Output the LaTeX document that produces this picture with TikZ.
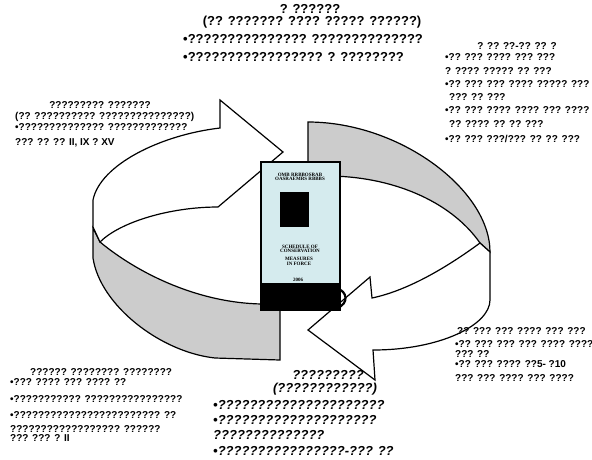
\documentclass[tikz,border=0pt]{standalone}
\usepackage{fontspec}
\setmainfont{Liberation Sans}
\newfontfamily\cardfont{Liberation Serif}
\definecolor{ringgray}{RGB}{204,204,204}
\definecolor{cardblue}{RGB}{213,235,238}
\tikzset{
  band/.style={draw=black, line width=1.2pt, line join=miter},
  bigtxt/.style={font=\bfseries\fontsize{13}{15}\selectfont, inner sep=0pt},
  bigital/.style={font=\bfseries\itshape\fontsize{13}{15}\selectfont, inner sep=0pt},
  smalltxt/.style={font=\bfseries\fontsize{10}{12}\selectfont, inner sep=0pt, anchor=west},
  cardtxt/.style={font=\cardfont\bfseries\fontsize{5}{4.5}\selectfont, align=center, inner sep=0pt}
}
\begin{document}
\begin{tikzpicture}[x=1pt,y=-1pt]
\useasboundingbox (0,0) rectangle (592,459);

% ring, back part on the right
\filldraw[band, fill=ringgray] (308,176) -- (308,122) .. controls (400,122) and (490,190) .. (490,252) -- (480,243) .. controls (450,200) and (390,176) .. (327,176) -- cycle;
% ring, front part on the left
\filldraw[band, fill=ringgray] (93,228) -- (100,242) .. controls (140,275) and (200,303) .. (262,304) -- (280,304) -- (280,360) -- (215,358) .. controls (160,352) and (100,305) .. (93,258) -- cycle;
% arrow into the card
\filldraw[band, fill=white] (100,242) -- (93,227) -- (93,200) .. controls (100,165) and (160,135) .. (220,128) -- (220,100) -- (283,152) -- (218,207) .. controls (170,207) and (120,222) .. (100,242) -- cycle;
% arrow out of the card
\filldraw[band, fill=white] (480,243) -- (490,252) -- (490,300) .. controls (490,325) and (440,350) .. (373,350) -- (375,380) -- (308,330) -- (370,277) -- (372,298) .. controls (410,290) and (450,265) .. (480,243) -- cycle;

% the booklet
\node[draw, line width=1.4pt, fill=cardblue, minimum width=79pt, minimum height=148pt, inner sep=0pt] (card) at (300.4,236) {};
\node[cardtxt] (cardhead) at (300,177) {OMB RRBBOSRAB\\OASRAEMRS RBBBS};
\node[fill=black, minimum width=29pt, minimum height=35pt, inner sep=0pt] (cardlogo) at (294.5,209.5) {};
\node[cardtxt] (cardtitle) at (300,249) {SCHEDULE OF\\CONSERVATION};
\node[cardtxt] (cardsub) at (299,261.5) {MEASURES\\IN FORCE};
\node[cardtxt] (cardyear) at (298,280) {2006};
\fill (261.7,283.3) rectangle (340,309.5);
\draw[line width=2.2pt] (336,288) .. controls (348,291) and (349,304) .. (337,308);

% top
\node[bigtxt] (goal) at (310,9) {? ??????};
\node[bigtxt] (goalsub) at (312,22) {(?? ??????? ???? ????? ??????)};
\node[bigtxt, anchor=west] (goal1) at (183,39) {•??????????????? ??????????????};
\node[bigtxt, anchor=west] (goal2) at (183,57) {•????????????????? ? ????????};

% top right
\node[smalltxt, anchor=center] (rt0) at (517,46) {? ?? ??-?? ?? ?};
\node[smalltxt] (rt1) at (445,57) {•?? ??? ???? ??? ???};
\node[smalltxt] (rt2) at (445,71) {? ???? ????? ?? ???};
\node[smalltxt] (rt3) at (445,84) {•?? ??? ??? ???? ????? ???};
\node[smalltxt] (rt4) at (449,97) {??? ?? ???};
\node[smalltxt] (rt5) at (445,110) {•?? ??? ???? ???? ??? ????};
\node[smalltxt] (rt6) at (449,124) {?? ???? ?? ?? ???};
\node[smalltxt] (rt7) at (445,139) {•?? ??? ???/??? ?? ?? ???};

% left
\node[smalltxt, anchor=center] (lm0) at (100,105) {????????? ???????};
\node[smalltxt] (lm1) at (15,117) {(?? ?????????? ???????????????)};
\node[smalltxt] (lm2) at (15,127) {•?????????????? ?????????????};
\node[smalltxt] (lm3) at (15,143) {??? ?? ?? II, IX ? XV};

% bottom right
\node[smalltxt] (br0) at (457,331) {?? ??? ??? ???? ??? ???};
\node[smalltxt] (br1) at (455,344) {•?? ??? ??? ??? ???? ????};
\node[smalltxt] (br2) at (455,354) {??? ??};
\node[smalltxt] (br3) at (455,364) {•?? ??? ???? ??5- ?10};
\node[smalltxt] (br4) at (455,378) {??? ??? ???? ??? ????};

% bottom left
\node[smalltxt] (bl0) at (30,372) {?????? ???????? ????????};
\node[smalltxt] (bl1) at (10,382) {•??? ???? ??? ???? ??};
\node[smalltxt] (bl2) at (10,399) {•??????????? ????????????????};
\node[smalltxt] (bl3) at (10,415) {•???????????????????????? ??};
\node[smalltxt] (bl4) at (10,429) {?????????????????? ??????};
\node[smalltxt] (bl5) at (10,438) {??? ??? ? II};

% bottom centre
\node[bigital] (act) at (328,375) {?????????};
\node[bigital] (actsub) at (325,389) {(????????????)};
\node[bigital, anchor=west] (act1) at (213,405) {•?????????????????????};
\node[bigital, anchor=west] (act2) at (213,420) {•????????????????????};
\node[bigital, anchor=west] (act3) at (213,435) {??????????????};
\node[bigital, anchor=west] (act4) at (213,451) {•????????????????-??? ??};
\end{tikzpicture}
\end{document}
